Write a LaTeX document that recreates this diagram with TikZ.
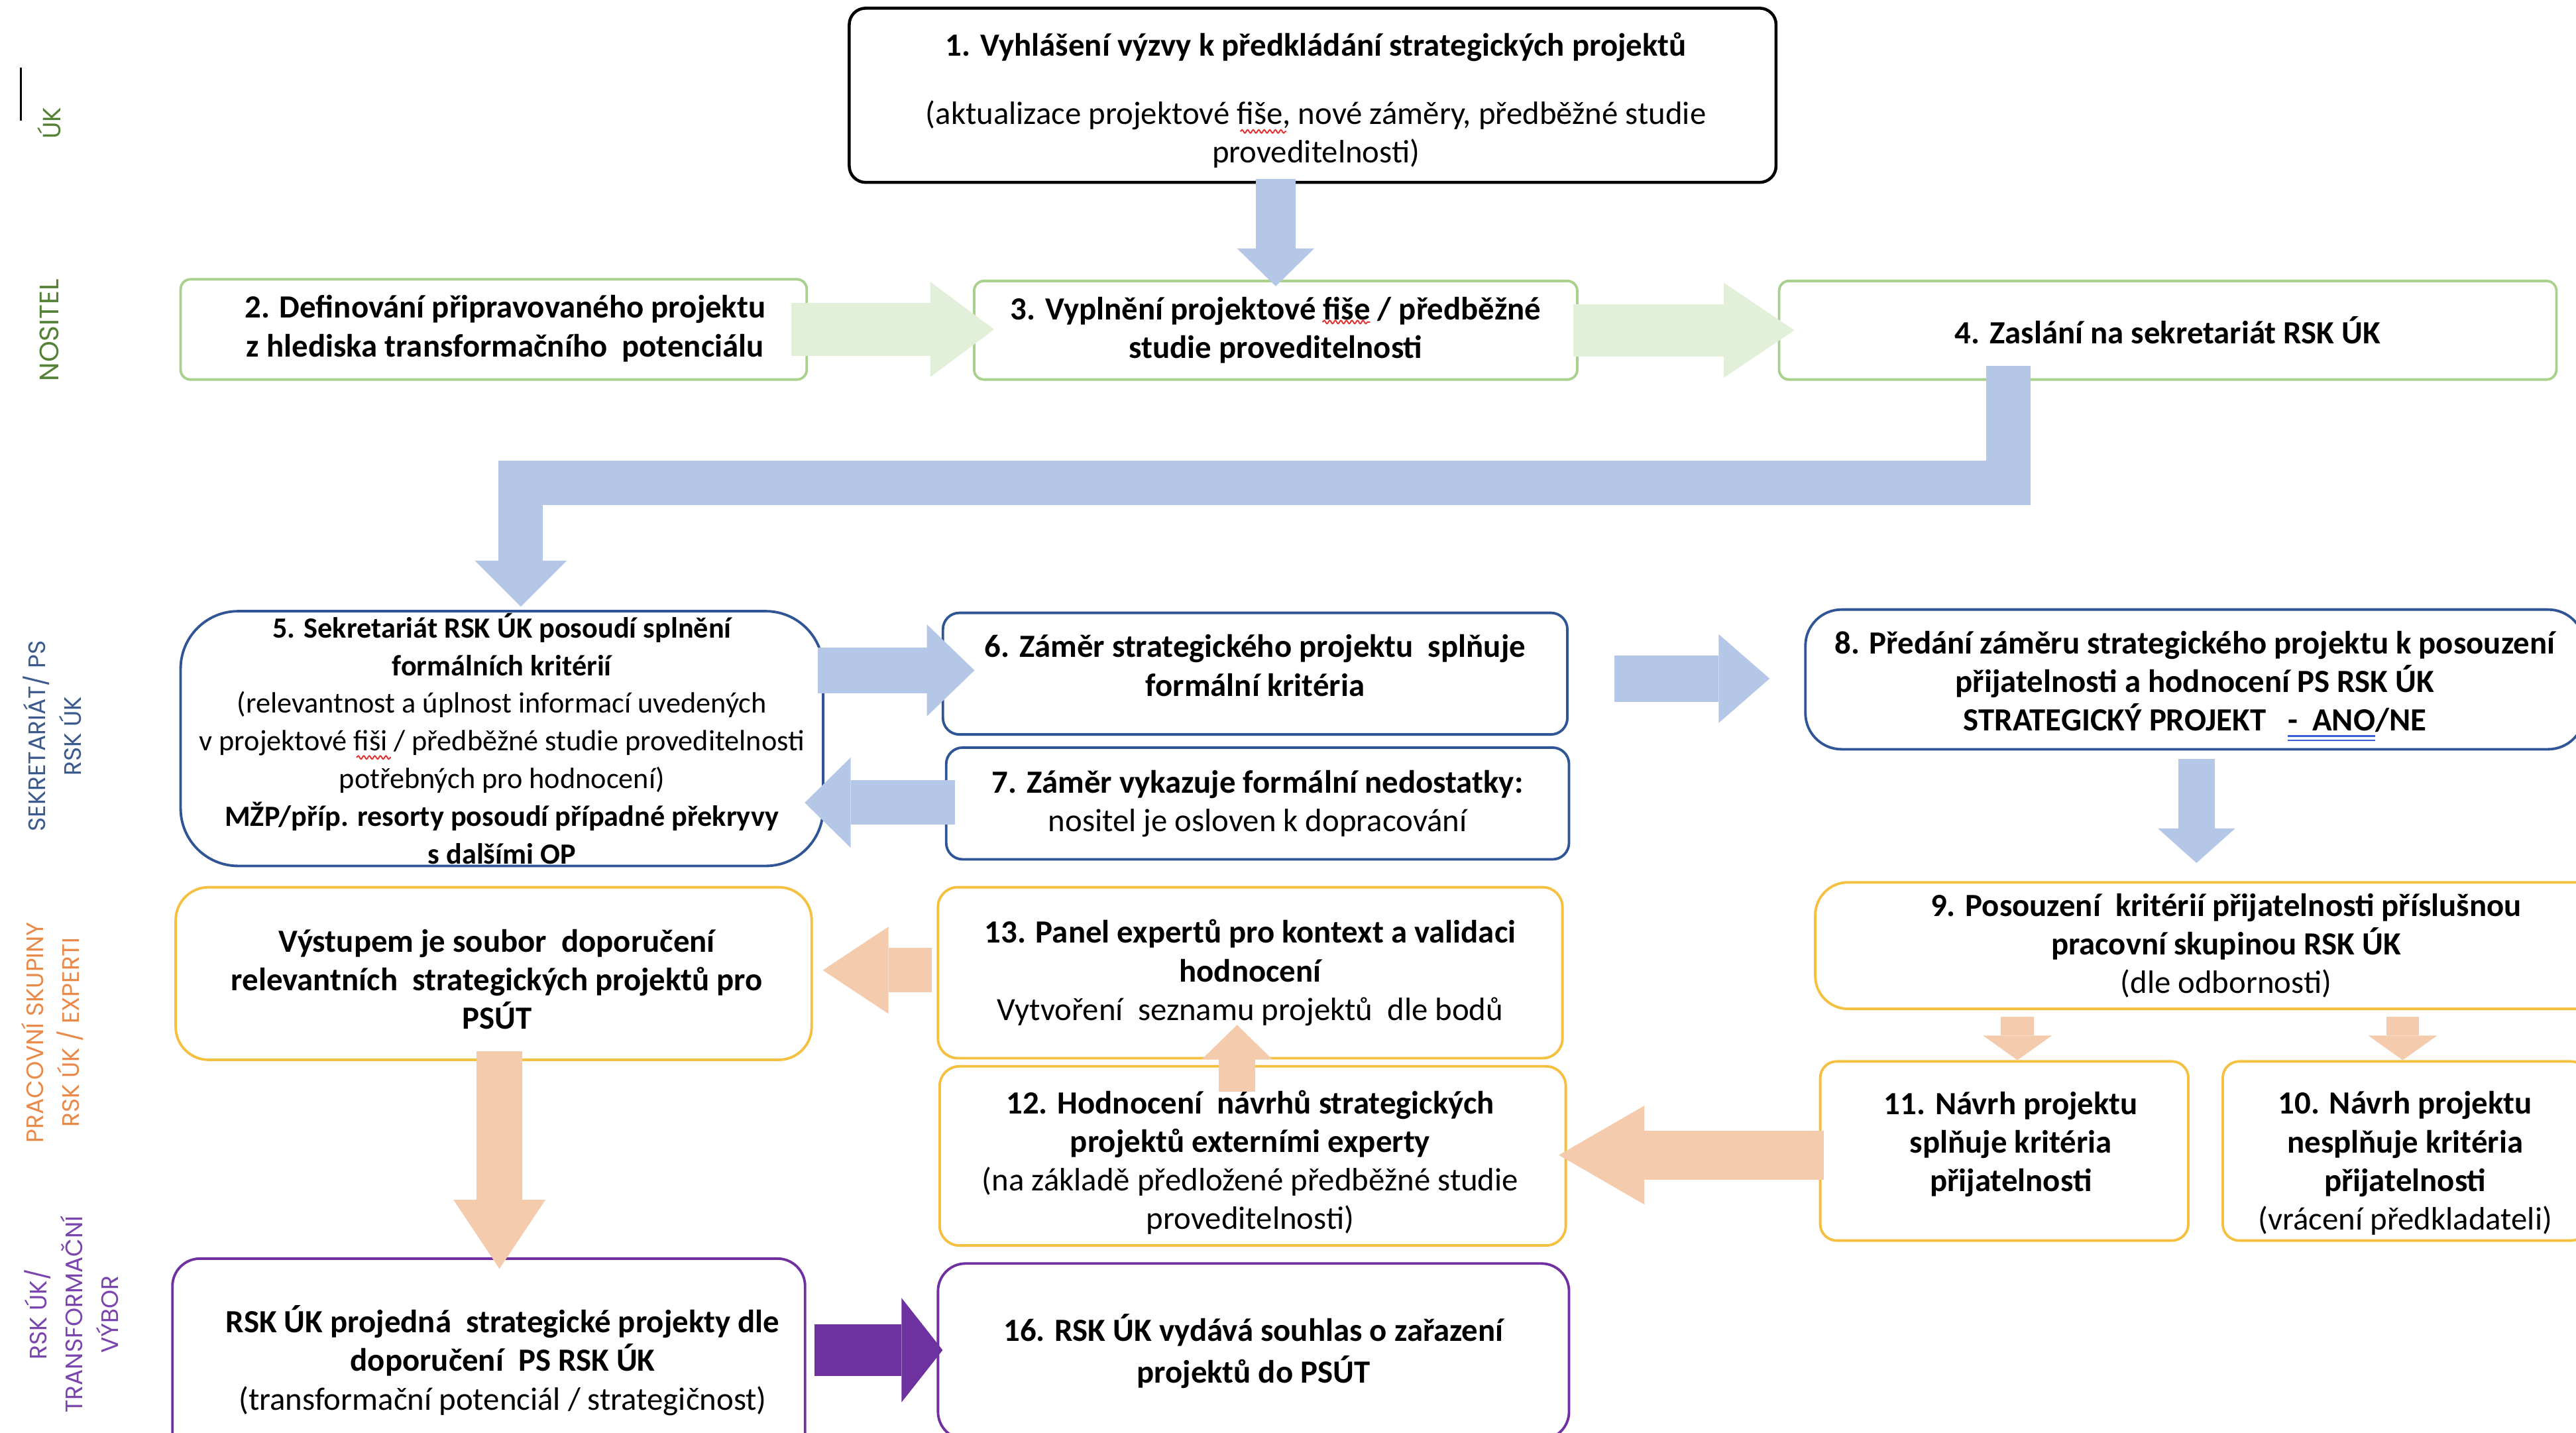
\documentclass[tikz,border=0pt]{standalone}
\usepackage{fontspec}
\setmainfont{Carlito}
\newfontfamily\labfont{Poppins}
\usetikzlibrary{arrows.meta,calc,decorations.pathmorphing}
\definecolor{gbord}{HTML}{A9D18E}
\definecolor{garr}{HTML}{E2F0D9}
\definecolor{bbord}{HTML}{2F5597}
\definecolor{barr}{HTML}{B4C7E7}
\definecolor{obord}{HTML}{F5C040}
\definecolor{oarr}{HTML}{F4CBAC}
\definecolor{pbord}{HTML}{7030A0}
\definecolor{parr}{HTML}{6E32A0}
\definecolor{lgreen}{HTML}{538135}
\definecolor{lblue}{HTML}{3C5A8E}
\definecolor{lorange}{HTML}{E9894A}
\definecolor{lpurple}{HTML}{7A45AE}
\definecolor{wavered}{HTML}{E03030}
\definecolor{uublue}{HTML}{3B5FD9}
\newsavebox\mkbox
\newcommand\blueuu[1]{\sbox\mkbox{#1}\rlap{\usebox\mkbox}{\color{uublue}\rlap{\lower2.6pt\hbox{\vrule width\wd\mkbox height .7pt depth 0pt}}\lower4.4pt\hbox{\vrule width\wd\mkbox height .7pt depth 0pt}}}
\newcommand\B{\bfseries}
\tikzset{
  box/.style={draw=#1, line width=1.1pt, align=center, inner sep=0pt, font=\fontsize{14}{16.7}\selectfont},
  txt/.style={align=center, inner sep=0pt, font=\fontsize{14}{16.7}\selectfont},
  blk/.style n args={4}{draw=#1, line width=#2, line join=miter, -{Triangle[width=#3,length=#4,line width=0pt]}},
  lab/.style={rotate=90, align=center, inner sep=0pt, font=\labfont\fontsize{10.3}{15.5}\selectfont},
  squig/.style={draw=wavered, line width=0.55pt, decorate, decoration={snake, amplitude=0.7pt, segment length=2.4pt}},
}
\begin{document}
\begin{tikzpicture}[x=0.025cm, y=-0.025cm]
\useasboundingbox (0,0) rectangle (1568,872);
\clip (0,0) rectangle (1568,872);
\fill[white] (0,0) rectangle (1568,872);

% lane labels
\draw[line width=1pt] (12.7,41) -- (12.7,73.4);
\node[lab, text=lgreen, font=\labfont\fontsize{10.8}{15.5}\selectfont] (lUK) at (30,75) {ÚK};
\node[lab, text=lgreen, font=\labfont\fontsize{11.6}{15.5}\selectfont] (lNOS) at (30,201) {NOSITEL};
\node[lab, text=lblue] (lSEK) at (31.75,448) {SEKRETARIÁT/ PS\\RSK ÚK};
\node[lab, text=lorange] (lPRA) at (31.75,628.4) {PRACOVNÍ SKUPINY\\RSK ÚK / EXPERTI};
\node[lab, text=lpurple] (lRSK) at (43.5,800) {RSK ÚK/\\TRANSFORMAČNÍ\\VÝBOR};

% boxes
\node[box=black, line width=1.3pt, rounded corners=0.25cm, minimum width=14.1cm, minimum height=2.65cm] (b1) at (799,58) {};
\node[txt] (t1) at (801,61)
  {{\B 1. Vyhlášení výzvy k předkládání strategických projektů}\\[0.45cm]
   (aktualizace projektové fiše, nové záměry, předběžné studie\\
   proveditelnosti)};
\node[box=gbord, rounded corners=0.15cm, minimum width=9.525cm, minimum height=1.525cm] (b2) at (300.5,200.5) {};
\node[txt] (t2) at (307.5,200)
  {{\B 2. Definování připravovaného projektu}\\{\B z hlediska transformačního\ \ potenciálu}};
\node[box=gbord, rounded corners=0.15cm, minimum width=9.175cm, minimum height=1.5cm] (b3) at (776.5,201)
  {{\B 3. Vyplnění projektové fiše / předběžné}\\{\B studie proveditelnosti}};
\node[box=gbord, rounded corners=0.15cm, minimum width=11.825cm, minimum height=1.5cm] (b4) at (1319.5,201)
  {{\B 4. Zaslání na sekretariát RSK ÚK}};
\node[box=bbord, rounded corners=0.875cm, minimum width=9.775cm, minimum height=3.875cm, font=\fontsize{12.7}{16.3}\selectfont] (b5) at (305.5,449.5)
  {{\B 5. Sekretariát RSK ÚK posoudí splnění}\\
   {\B formálních kritérií}\\
   (relevantnost a úplnost informací uvedených\\
   v projektové fiši / předběžné studie proveditelnosti\\
   potřebných pro hodnocení)\\
   {\B MŽP/příp. resorty posoudí případné překryvy}\\
   {\B s dalšími OP}};
\node[box=bbord, rounded corners=0.25cm, minimum width=9.5cm, minimum height=1.85cm] (b6) at (764,410) {};
\node[txt] (t6) at (764,405)
  {{\B 6. Záměr strategického projektu\ \ splňuje}\\{\B formální kritéria}};
\node[box=bbord, rounded corners=0.25cm, minimum width=9.475cm, minimum height=1.7cm] (b7) at (765.5,489)
  {{\B 7. Záměr vykazuje formální nedostatky:}\\nositel je osloven k dopracování};
\node[box=bbord, rounded corners=0.55cm, minimum width=11.85cm, minimum height=2.125cm] (b8) at (1336,413.5) {};
\node[txt] (t8) at (1336,417.5)
  {{\B 8. Předání záměru strategického projektu k posouzení}\\
   {\B přijatelnosti a hodnocení PS RSK ÚK}\\
   {\B STRATEGICKÝ PROJEKT\ \ \ \blueuu{-\ \ ANO}/NE}};
\node[box=obord, rounded corners=0.5cm, minimum width=12.5cm, minimum height=1.925cm] (b9) at (1355,575.5)
  {{\B 9. Posouzení\ \ kritérií přijatelnosti příslušnou}\\
   {\B pracovní skupinou RSK ÚK}\\
   (dle odbornosti)};
\node[box=obord, rounded corners=0.25cm, minimum width=5.6cm, minimum height=2.725cm] (b11) at (1220,700.5) {};
\node[txt] (t11) at (1224,696.5)
  {{\B 11. Návrh projektu}\\{\B splňuje kritéria}\\{\B přijatelnosti}};
\node[box=obord, rounded corners=0.25cm, minimum width=5.55cm, minimum height=2.725cm] (b10) at (1464,700.5) {};
\node[txt] (t10) at (1464,708)
  {{\B 10. Návrh projektu}\\{\B nesplňuje kritéria}\\{\B přijatelnosti}\\(vrácení předkladateli)};
\node[box=obord, rounded corners=0.3cm, minimum width=9.5cm, minimum height=2.6cm] (b13) at (761,592)
  {{\B 13. Panel expertů pro kontext a validaci}\\{\B hodnocení}\\Vytvoření\ \ seznamu projektů\ \ dle bodů};
\node[box=obord, rounded corners=0.3cm, minimum width=9.525cm, minimum height=2.725cm] (b12) at (762.5,703.5) {};
\node[txt] (t12) at (761,707.5)
  {{\B 12. Hodnocení\ \ návrhů strategických}\\{\B projektů externími experty}\\
   (na základě předložené předběžné studie\\proveditelnosti)};
\node[box=obord, rounded corners=0.5cm, minimum width=9.675cm, minimum height=2.625cm] (bV) at (300.5,592.5) {};
\node[txt] (tV) at (302.5,596)
  {{\B Výstupem je soubor\ \ doporučení}\\{\B relevantních\ \ strategických projektů pro}\\{\B PSÚT}};
\node[box=pbord, rounded corners=0.42cm, minimum width=9.625cm, minimum height=3.1cm] (bR) at (297.5,828) {};
\node[txt] (tR) at (306,828)
  {{\B RSK ÚK projedná\ \ strategické projekty dle}\\{\B doporučení\ \ PS RSK ÚK}\\
   (transformační potenciál / strategičnost)};
\node[box=pbord, rounded corners=0.42cm, minimum width=9.6cm, minimum height=2.675cm, font=\fontsize{14}{18}\selectfont] (b16) at (763,822.5)
  {{\B 16. RSK ÚK vydává souhlas o zařazení}\\{\B projektů do PSÚT}};

% proofing marks
\draw[squig] (755,80) -- (783,80);
\draw[squig] (805,196) -- (834,196);
\draw[squig] (217,461) -- (238,461);

% block arrows
\draw[blk={barr}{0.6cm}{1.175cm}{0.575cm}] ($(b3.north |- b1.south)+(0,-3)$) -- ($(b3.north)+(0,4)$);
\draw[blk={garr}{0.8cm}{1.45cm}{0.975cm}] ($(b2.east)+(-10,0)$) -- ($(b2.east -| b3.west)+(13,0)$);
\draw[blk={garr}{0.8cm}{1.45cm}{1.075cm}] ($(b3.east)+(-3,0)$) -- ($(b3.east -| b4.west)+(10,0)$);
\draw[blk={barr}{0.675cm}{1.4cm}{0.7cm}] ($(b4.south)+(-97,-9)$) -- ++(0,71) -| ($(b5.north)+(11.5,-2)$);
\draw[blk={barr}{0.7cm}{1.4cm}{0.725cm}] ($(b5.east |- b6.west)+(-4,-2)$) -- ($(b6.west)+(20,-2)$);
\draw[blk={barr}{0.7cm}{1.35cm}{0.775cm}] ($(b6.east)+(28,3)$) -- ($(b6.east -| b8.west)+(-21,3)$);
\draw[blk={barr}{0.675cm}{1.375cm}{0.7cm}] ($(b7.west)+(6,-0.5)$) -- ($(b7.west -| b5.east)+(-12,-0.5)$);
\draw[blk={barr}{0.55cm}{1.175cm}{0.525cm}] ($(b8.south)+(1,5)$) -- ($(b8.south |- b9.north)+(1,-11)$);
\draw[blk={oarr}{0.5cm}{1.05cm}{0.375cm}] ($(b11.north |- b9.south)+(8,4)$) -- ($(b11.north)+(8,0)$);
\draw[blk={oarr}{0.5cm}{1.05cm}{0.375cm}] ($(b10.north |- b9.south)+(-1.5,4)$) -- ($(b10.north)+(-1.5,0)$);
\draw[blk={oarr}{0.75cm}{1.5cm}{1.3cm}] ($(b11.west)+(3,2.5)$) -- ($(b11.west -| b12.east)+(-5,2.5)$);
\draw[blk={oarr}{0.55cm}{1.075cm}{0.525cm}] ($(b12.north)+(-9.5,16)$) -- ($(b13.south)+(-8,-21)$);
\draw[blk={oarr}{0.675cm}{1.325cm}{1.0cm}] ($(b13.west)+(-3,-1.5)$) -- ($(b13.west -| bV.east)+(6,-1.5)$);
\draw[blk={oarr}{0.7cm}{1.4cm}{1.05cm}] ($(bV.south)+(3.5,-6)$) -- ($(bV.south |- bR.north)+(3.5,7)$);
\draw[blk={parr}{0.7875cm}{1.5875cm}{0.625cm}] ($(bR.east)+(5,-6.3)$) -- ($(bR.east -| b16.west)+(3.6,-6.3)$);
\end{tikzpicture}
\end{document}
